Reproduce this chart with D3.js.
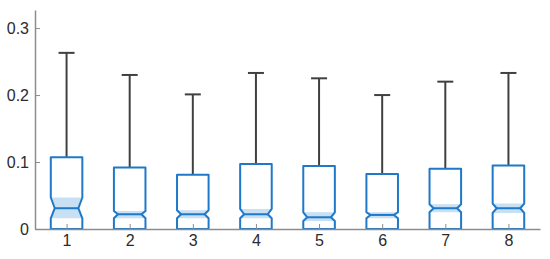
<!DOCTYPE html>
<html>
<head>
<meta charset="utf-8">
<script src="https://cdn.jsdelivr.net/npm/d3@7"></script>
<style>
  body { margin: 0; background: #fff; }
  svg { display: block; }
</style>
</head>
<body>
<div class="chart"></div>
<script>
// values
var groups = [1, 2, 3, 4, 5, 6, 7, 8];
var q1 = [0, 0, 0, 0, 0, 0, 0, 0];
var medians = [0.031, 0.022, 0.022, 0.022, 0.0175, 0.021, 0.031, 0.031];
var q3 = [0.107, 0.092, 0.081, 0.097, 0.094, 0.082, 0.090, 0.095];
var whiskerHi = [0.263, 0.230, 0.201, 0.233, 0.225, 0.200, 0.220, 0.233];
var whiskerLo = [0, 0, 0, 0, 0, 0, 0, 0];
var notchLo = [0.016, 0.016, 0.016, 0.016, 0.012, 0.016, 0.025, 0.024];
var notchHi = [0.047, 0.027, 0.028, 0.030, 0.025, 0.025, 0.037, 0.038];
var yTicks = [0, 0.1, 0.2, 0.3];

var chart_width = 550;
var chart_height = 259;

var x = d3.scaleLinear().domain([0.5, 8.5]).range([35, 540]);
var y = d3.scaleLinear().domain([0, 0.327]).range([229, 10]);

var boxColor = '#1f78c8';
var shadeColor = '#c7e0f3';
var whiskerColor = '#404040';

var svg = d3.select('.chart')
  .append('svg')
  .attr('width', chart_width)
  .attr('height', chart_height);

var data = groups.map(function (g, i) {
  return { g: g, q1: q1[i], med: medians[i], q3: q3[i], hi: whiskerHi[i], lo: whiskerLo[i], nLo: notchLo[i], nHi: notchHi[i] };
});

var halfW = (x(1.25) - x(1));
var inset = 4;
var capHalf = 8;

var items = svg.selectAll('g.box')
  .data(data)
  .enter()
  .append('g')
  .attr('class', 'box');

// whiskers
items.append('line')
  .attr('x1', function (d) { return x(d.g); })
  .attr('x2', function (d) { return x(d.g); })
  .attr('y1', function (d) { return y(d.q3); })
  .attr('y2', function (d) { return y(d.hi); })
  .attr('stroke', whiskerColor)
  .attr('stroke-width', 2);

items.append('line')
  .attr('x1', function (d) { return x(d.g) - capHalf; })
  .attr('x2', function (d) { return x(d.g) + capHalf; })
  .attr('y1', function (d) { return y(d.hi); })
  .attr('y2', function (d) { return y(d.hi); })
  .attr('stroke', whiskerColor)
  .attr('stroke-width', 2);

// notch shading
items.append('path')
  .attr('d', function (d) {
    var l = x(d.g) - halfW, r = x(d.g) + halfW;
    return 'M' + l + ',' + y(d.nHi) + 'L' + r + ',' + y(d.nHi) +
      'L' + (r - inset) + ',' + y(d.med) + 'L' + r + ',' + y(d.nLo) +
      'L' + l + ',' + y(d.nLo) + 'L' + (l + inset) + ',' + y(d.med) + 'Z';
  })
  .attr('fill', shadeColor);

// notched box outline
items.append('path')
  .attr('d', function (d) {
    var l = x(d.g) - halfW, r = x(d.g) + halfW;
    return 'M' + l + ',' + y(d.q1) + 'L' + l + ',' + y(d.nLo) +
      'L' + (l + inset) + ',' + y(d.med) + 'L' + l + ',' + y(d.nHi) +
      'L' + l + ',' + y(d.q3) + 'L' + r + ',' + y(d.q3) +
      'L' + r + ',' + y(d.nHi) + 'L' + (r - inset) + ',' + y(d.med) +
      'L' + r + ',' + y(d.nLo) + 'L' + r + ',' + y(d.q1) + 'Z';
  })
  .attr('fill', 'none')
  .attr('stroke', boxColor)
  .attr('stroke-width', 2)
  .attr('stroke-linejoin', 'round');

// median
items.append('line')
  .attr('x1', function (d) { return x(d.g) - halfW + inset; })
  .attr('x2', function (d) { return x(d.g) + halfW - inset; })
  .attr('y1', function (d) { return y(d.med); })
  .attr('y2', function (d) { return y(d.med); })
  .attr('stroke', boxColor)
  .attr('stroke-width', 2);

// axes, ticks point inward like matlab
var yAxis = d3.axisLeft(y)
  .tickValues(yTicks)
  .tickFormat(d3.format(''))
  .tickSizeInner(-5)
  .tickSizeOuter(0)
  .tickPadding(6);

var xAxis = d3.axisBottom(x)
  .tickValues(groups)
  .tickFormat(d3.format('d'))
  .tickSizeInner(-5)
  .tickSizeOuter(0)
  .tickPadding(6);

var gy = svg.append('g')
  .attr('transform', 'translate(' + x(0.5) + ',0)')
  .call(yAxis);

var gx = svg.append('g')
  .attr('transform', 'translate(0,' + y(0) + ')')
  .call(xAxis);

[gx, gy].forEach(function (g) {
  g.select('.domain').attr('stroke', '#8c8c8c').attr('stroke-width', 1.5);
  g.selectAll('.tick line').attr('stroke', '#8c8c8c').attr('stroke-width', 1);
  g.selectAll('.tick text')
    .attr('fill', '#2b2b2b')
    .style('font-family', '"Liberation Sans", Arial, sans-serif')
    .style('font-size', '16px');
});
</script>
</body>
</html>
